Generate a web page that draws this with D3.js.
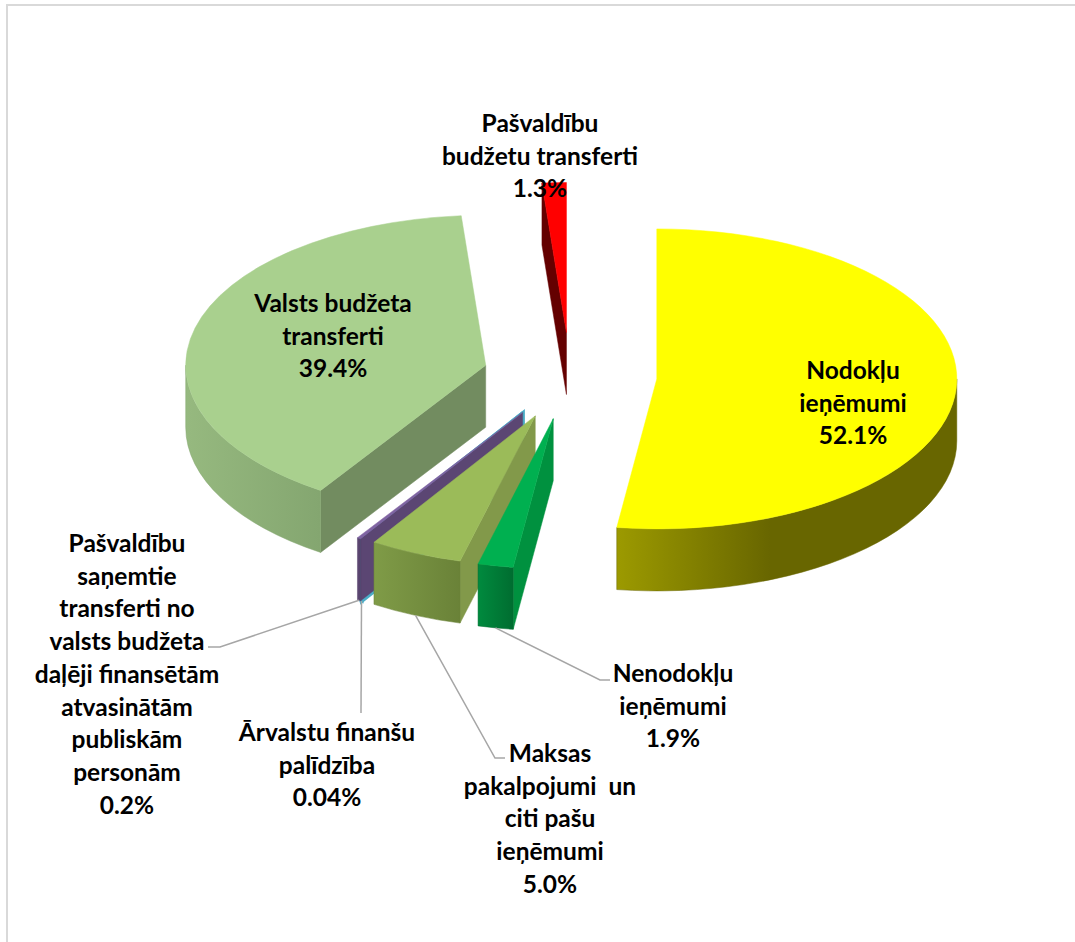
<!DOCTYPE html>
<html>
<head>
<meta charset="utf-8">
<script src="https://cdn.jsdelivr.net/npm/d3@7/dist/d3.min.js"></script>
<style>
body { margin: 0; background: #fff; }
text { font-family: Lato, "Open Sans", sans-serif; font-weight: 700; fill: #000; white-space: pre; }
</style>
</head>
<body>
<div id="chart"></div>
<script>
// data
var categories = ["Nodokļu ieņēmumi", "Nenodokļu ieņēmumi", "Maksas pakalpojumi un citi pašu ieņēmumi",
  "Ārvalstu finanšu palīdzība", "Pašvaldību saņemtie transferti no valsts budžeta daļēji finansētām atvasinātām publiskām personām",
  "Valsts budžeta transferti", "Pašvaldību budžetu transferti"];
var shares = [52.1, 1.9, 5.0, 0.04, 0.2, 39.4, 1.3];
var shareLabels = ["52.1%", "1.9%", "5.0%", "0.04%", "0.2%", "39.4%", "1.3%"];
var labelLines = [
  ["Nodokļu", "ieņēmumi"],
  ["Nenodokļu", "ieņēmumi"],
  ["Maksas", "pakalpojumi  un", "citi pašu", "ieņēmumi"],
  ["Ārvalstu finanšu", "palīdzība"],
  ["Pašvaldību", "saņemtie", "transferti no", "valsts budžeta", "daļēji finansētām", "atvasinātām", "publiskām", "personām"],
  ["Valsts budžeta", "transferti"],
  ["Pašvaldību", "budžetu transferti"]
];

// styles
var topCol   = ["#ffff00", "#00b050", "#9bbb59", "#4bacc6", "#8064a2", "#a9d08e", "#ff0000"];
var sideLt   = ["#9c9a00", "#008a3e", "#7f9b47", "#3f93a9", "#5e4874", "#96b97f", "#7a0000"];
var sideDk   = ["#686600", "#006d30", "#6a8238", "#347c8f", "#54406a", "#84a670", "#600000"];
var faceCol  = ["#808000", "#00913f", "#82994a", "#45a0b8", "#5b4673", "#728c60", "#640000"];

// label layout: center x, first line center y, leader elbow points (null = no leader)
var labelLayout = [
  { x: 853, y: 370, leader: null },
  { x: 673, y: 673, leader: [[600, 680], [610, 680]] },
  { x: 550, y: 753, leader: [[495, 758], [505, 758]] },
  { x: 327, y: 732, leader: [[361, 713]] },
  { x: 127, y: 543, leader: [[220, 647], [208, 647]] },
  { x: 333, y: 303, leader: null },
  { x: 540, y: 123, leader: null }
];

var width = 1075, height = 942;
var cx = 570, cy = 376;
var rx = 300, ry = 150, depth = 62, explode = 87;
var k = ry / rx;
var lineH = 32.7;

var svg = d3.select("#chart").append("svg")
  .attr("width", width)
  .attr("height", height);

svg.append("rect")
  .attr("x", 7).attr("y", 5)
  .attr("width", width + 50).attr("height", height + 50)
  .attr("fill", "#fff")
  .attr("stroke", "#d9d9d9")
  .attr("stroke-width", 2);

var defs = svg.append("defs");

var arcs = d3.pie().sort(null).value(d => d)(shares);

function pt(a, r) { return [r * Math.sin(a), -r * k * Math.cos(a)]; }

arcs.forEach(function(d, i) {
  d.mid = (d.startAngle + d.endAngle) / 2;
  var o = pt(d.mid, explode);
  d.ax = cx + o[0];
  d.ay = cy + o[1];
  var g = defs.append("linearGradient").attr("id", "side" + i)
    .attr("x1", 0).attr("x2", 1).attr("y1", 0).attr("y2", 0);
  g.append("stop").attr("offset", 0).attr("stop-color", sideLt[i]);
  g.append("stop").attr("offset", i == 0 ? 0.45 : 1).attr("stop-color", sideDk[i]);
  if (i == 0) g.append("stop").attr("offset", 1).attr("stop-color", sideDk[i]);
});

function rimP(d, a, dz) {
  var p = pt(a, rx);
  return [d.ax + p[0], d.ay + p[1] + (dz || 0)];
}

// back slices first
var order = d3.range(arcs.length).sort(function(a, b) {
  var ca = Math.round(Math.cos(arcs[a].mid) * 100) / 100;
  var cb = Math.round(Math.cos(arcs[b].mid) * 100) / 100;
  return cb - ca || a - b;
});

var pieG = svg.append("g");

order.forEach(function(i) {
  var d = arcs[i];
  var g = pieG.append("g").attr("class", "slice" + i);
  var s = d.startAngle, e = d.endAngle;
  var edge = i == 3 ? topCol[3] : "none";
  var sw = edge == "none" ? 0.5 : 3.5;

  function face(a) {
    var p = rimP(d, a), q = rimP(d, a, depth);
    g.append("path")
      .attr("d", `M${d.ax},${d.ay}L${p}L${q}L${d.ax},${d.ay + depth}Z`)
      .attr("fill", faceCol[i])
      .attr("stroke", edge == "none" ? faceCol[i] : edge)
      .attr("stroke-width", sw);
  }
  if (Math.sin(s) < -1e-6) face(s);
  if (Math.sin(e) > 1e-6) face(e);

  // outer wall for the front half
  var a0 = Math.max(s, Math.PI / 2), a1 = Math.min(e, 3 * Math.PI / 2);
  if (a1 > a0) {
    var p0 = rimP(d, a0), p1 = rimP(d, a1);
    var q0 = rimP(d, a0, depth), q1 = rimP(d, a1, depth);
    var lg = (a1 - a0) > Math.PI ? 1 : 0;
    g.append("path")
      .attr("d", `M${p0}A${rx},${ry} 0 ${lg} 1 ${p1}L${q1}A${rx},${ry} 0 ${lg} 0 ${q0}Z`)
      .attr("fill", `url(#side${i})`)
      .attr("stroke", edge == "none" ? sideDk[i] : edge)
      .attr("stroke-width", sw);
  }

  var t0 = rimP(d, s), t1 = rimP(d, e);
  var lgT = (e - s) > Math.PI ? 1 : 0;
  g.append("path")
    .attr("d", `M${d.ax},${d.ay}L${t0}A${rx},${ry} 0 ${lgT} 1 ${t1}Z`)
    .attr("fill", topCol[i])
    .attr("stroke", edge == "none" ? topCol[i] : edge)
    .attr("stroke-width", sw);
});

// leader lines
var line = d3.line();
arcs.forEach(function(d, i) {
  var L = labelLayout[i];
  if (!L.leader) return;
  var start = rimP(d, d.mid, depth);
  svg.append("path")
    .attr("d", line([start].concat(L.leader)))
    .attr("fill", "none")
    .attr("stroke", "#a6a6a6")
    .attr("stroke-width", 1.5);
});

// labels
arcs.forEach(function(d, i) {
  var L = labelLayout[i];
  var lines = labelLines[i].concat([shareLabels[i]]);
  var t = svg.append("text")
    .attr("text-anchor", "middle")
    .attr("font-size", 24.5);
  lines.forEach(function(s, j) {
    t.append("tspan")
      .attr("x", L.x)
      .attr("y", L.y + j * lineH + 9)
      .text(s);
  });
});
</script>
</body>
</html>
